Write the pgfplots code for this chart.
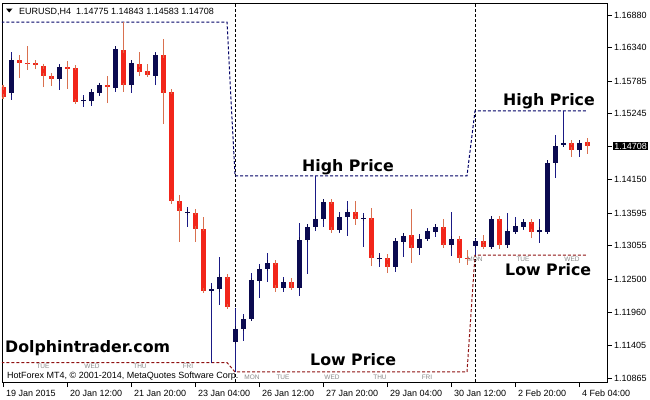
\documentclass[border=0pt]{standalone}
\usepackage{pgfplots}
\pgfplotsset{compat=1.18}
\usepackage{pgfplotstable}
\usepackage{fontspec}
\setmainfont{Liberation Sans}
\newfontfamily\dv{DejaVu Sans}

\definecolor{bullbody}{HTML}{0B0A50}
\definecolor{bullwick}{HTML}{1A1A85}
\definecolor{bearbody}{HTML}{F2251A}
\definecolor{bearwick}{HTML}{D9704F}
\definecolor{hiline}{HTML}{000066}
\definecolor{loline}{HTML}{8E1010}
\definecolor{daygray}{HTML}{8A8A8A}

% EURUSD H4, bar index, open high low close
\pgfplotstableread{
i o h l c
1 1.15588 1.16267 1.15472 1.16134
7 1.15820 1.16068 1.15638 1.16018
10 1.15455 1.15555 1.15356 1.15472
11 1.15455 1.15638 1.15373 1.15605
12 1.15588 1.15737 1.15538 1.15720
14 1.15671 1.16350 1.15605 1.16317
16 1.15720 1.16085 1.15588 1.16085
19 1.15870 1.16267 1.15720 1.16217
23 1.13600 1.13699 1.13368 1.13616
26 1.12307 1.12440 1.11122 1.12340
27 1.12340 1.12871 1.12075 1.12539
29 1.11462 1.12025 1.10965 1.11678
30 1.11678 1.11926 1.11479 1.11843
31 1.11843 1.12605 1.11843 1.12489
32 1.12473 1.12755 1.12191 1.12672
33 1.12672 1.12937 1.12456 1.12771
35 1.12357 1.12539 1.12291 1.12456
37 1.12357 1.13434 1.12224 1.13152
38 1.13152 1.13401 1.12589 1.13368
39 1.13368 1.14213 1.13301 1.13500
40 1.13500 1.13798 1.13368 1.13782
42 1.13318 1.13616 1.13268 1.13533
43 1.13533 1.13798 1.13219 1.13616
45 1.13500 1.13600 1.13036 1.13517
47 1.12837 1.12937 1.12705 1.12854
49 1.12705 1.13169 1.12622 1.13136
50 1.13119 1.13252 1.12871 1.13219
52 1.13020 1.13252 1.12904 1.13169
53 1.13169 1.13351 1.13136 1.13301
54 1.13285 1.13384 1.13202 1.13368
56 1.13069 1.13616 1.12887 1.13169
59 1.13053 1.13169 1.12900 1.13136
61 1.13036 1.13517 1.13030 1.13500
63 1.13069 1.13600 1.13060 1.13301
64 1.13285 1.13533 1.13268 1.13384
65 1.13368 1.13467 1.13318 1.13451
67 1.13285 1.13500 1.13103 1.13318
68 1.13285 1.14461 1.13280 1.14428
69 1.14428 1.14892 1.14180 1.14711
70 1.14727 1.15290 1.14694 1.14760
72 1.14644 1.14809 1.14528 1.14760
}\bull

\pgfplotstableread{
i o h l c
0 1.15687 1.15720 1.15489 1.15522
2 1.16134 1.16217 1.15836 1.16085
3 1.16085 1.16366 1.15969 1.16068
4 1.16085 1.16134 1.15985 1.16052
5 1.16035 1.16068 1.15687 1.15870
6 1.15870 1.15919 1.15704 1.15820
8 1.16018 1.16118 1.15654 1.15985
9 1.16002 1.16010 1.15406 1.15439
13 1.15720 1.15870 1.15422 1.15687
15 1.16300 1.16764 1.15605 1.15720
17 1.16068 1.16267 1.15870 1.15936
18 1.15952 1.16068 1.15853 1.15886
20 1.16217 1.16482 1.15074 1.15588
21 1.15605 1.15638 1.13749 1.13798
22 1.13798 1.13898 1.13119 1.13633
24 1.13600 1.13666 1.13119 1.13335
25 1.13335 1.13533 1.12274 1.12307
28 1.12539 1.12556 1.12025 1.12042
34 1.12771 1.12788 1.12291 1.12357
36 1.12456 1.12523 1.12340 1.12357
41 1.13782 1.13815 1.13268 1.13318
44 1.13616 1.13798 1.13401 1.13500
46 1.13517 1.13682 1.12721 1.12854
48 1.12854 1.12920 1.12605 1.12705
51 1.13235 1.13666 1.12771 1.13020
55 1.13368 1.13500 1.13020 1.13069
57 1.13169 1.13219 1.12771 1.12854
58 1.12854 1.12987 1.12738 1.12837
60 1.13136 1.13235 1.13030 1.13036
62 1.13500 1.13533 1.13003 1.13069
66 1.13451 1.13467 1.13185 1.13285
71 1.14760 1.14776 1.14528 1.14644
73 1.14775 1.14843 1.14583 1.14708
}\bear

\begin{document}
\begin{tikzpicture}
\path[use as bounding box] (0,0) rectangle (650bp,-400bp);
\begin{axis}[
  at={(2bp,-3bp)}, anchor=north west,
  scale only axis, width=605bp, height=379bp,
  xmin=-0.125, xmax=75.5, ymin=1.10799, ymax=1.17079,
  axis line style={line width=0.8bp},
  tick align=outside, major tick length=5bp,
  tick style={black, line width=0.8bp},
  xtick pos=bottom, ytick pos=right, yticklabel pos=right,
  xtick={0,8,...,72},
  xticklabels={19 Jan 2015,20 Jan 12:00,21 Jan 20:00,23 Jan 04:00,26 Jan 12:00,27 Jan 20:00,29 Jan 04:00,30 Jan 12:00,2 Feb 20:00,4 Feb 04:00},
  ytick={1.10865,1.11405,1.11960,1.12500,1.13055,1.13595,1.14150,1.15245,1.15785,1.16340,1.16880},
  yticklabels={1.10865,1.11405,1.11960,1.12500,1.13055,1.13595,1.14150,1.15245,1.15785,1.16340,1.16880},
  extra y ticks={1.14708}, extra y tick labels={1.14708},
  extra y tick style={yticklabel style={fill=black, text=white, inner sep=1.2bp, xshift=-1bp}},
  tick label style={font=\fontsize{9bp}{10bp}\selectfont},
  xticklabel style={anchor=north west, inner sep=0pt, xshift=3bp, yshift=-3bp},
  yticklabel style={anchor=west, inner sep=0pt, xshift=2bp},
  minor tick num=0,
]
% period separators
\addplot[black, line width=0.9bp, dash pattern=on 3bp off 2bp] coordinates {(29,1.10799) (29,1.17079)};
\addplot[black, line width=0.9bp, dash pattern=on 3bp off 2bp] coordinates {(59,1.10799) (59,1.17079)};
% weekly high and low
\addplot[hiline, line width=1bp, dash pattern=on 3bp off 2bp] coordinates {(-0.2,1.16764) (28,1.16764) (29,1.14213) (58,1.14213) (59,1.15290) (73,1.15290)};
\addplot[loline, line width=1bp, dash pattern=on 3bp off 2bp] coordinates {(-0.2,1.11122) (28,1.11122) (29,1.10965) (58,1.10965) (59,1.12900) (73,1.12900)};
% wicks
\addplot[draw=none, mark=none, error bars/.cd, y dir=plus, y explicit, error mark=none,
  error bar style={draw=bullwick, line width=1bp, solid}]
  table[x=i, y=l, y error plus expr=\thisrow{h}-\thisrow{l}] {\bull};
\addplot[draw=none, mark=none, error bars/.cd, y dir=plus, y explicit, error mark=none,
  error bar style={draw=bearwick, line width=1bp, solid}]
  table[x=i, y=l, y error plus expr=\thisrow{h}-\thisrow{l}] {\bear};
% bodies
\addplot[draw=none, mark=none, error bars/.cd, y dir=both, y explicit, error mark=-,
  error bar style={draw=bullbody, line width=5bp, solid},
  error mark options={draw=bullbody, line width=1bp, mark size=2.5bp}]
  table[x=i, y=o, y error plus expr=\thisrow{c}-\thisrow{o}, y error minus expr=0] {\bull};
\addplot[draw=none, mark=none, error bars/.cd, y dir=both, y explicit, error mark=-,
  error bar style={draw=bearbody, line width=5bp, solid},
  error mark options={draw=bearwick, line width=1bp, mark size=2.5bp}]
  table[x=i, y=c, y error plus expr=\thisrow{o}-\thisrow{c}, y error minus expr=0] {\bear};
\end{axis}

\begin{scope}[x=1bp, y=-1bp]
\fill (6,8.5) -- (12.5,8.5) -- (9.25,12.5) -- cycle;
\node[anchor=base west, inner sep=0pt] at (19,14) {\fontsize{9bp}{10bp}\selectfont EURUSD,H4\ \ 1.14775 1.14843 1.14583 1.14708};
\node[anchor=base west, inner sep=0pt] at (7,378) {\fontsize{9bp}{10bp}\selectfont HotForex MT4, © 2001-2014, MetaQuotes Software Corp.};
\begin{scope}[every node/.style={anchor=base west, inner sep=0pt, font=\dv\bfseries\fontsize{15.8bp}{18bp}\selectfont}]
\node at (302,171) {High Price};
\node at (503,105) {High Price};
\node at (505,275) {Low Price};
\node at (310,365) {Low Price};
\node at (5,352) {Dolphintrader.com};
\end{scope}
\begin{scope}[every node/.style={inner sep=0pt, text=daygray, font=\fontsize{6.5bp}{7bp}\selectfont}]
\node at (43,366.5) {TUE};
\node at (92,366.5) {WED};
\node at (140,366.5) {THU};
\node at (188,366.5) {FRI};
\node at (252,377) {MON};
\node at (283,377) {TUE};
\node at (332,377) {WED};
\node at (380,377) {THU};
\node at (427,377) {FRI};
\node at (475,259) {MON};
\node at (523,259) {TUE};
\node at (572,259) {WED};
\end{scope}
\end{scope}
\end{tikzpicture}
\end{document}
